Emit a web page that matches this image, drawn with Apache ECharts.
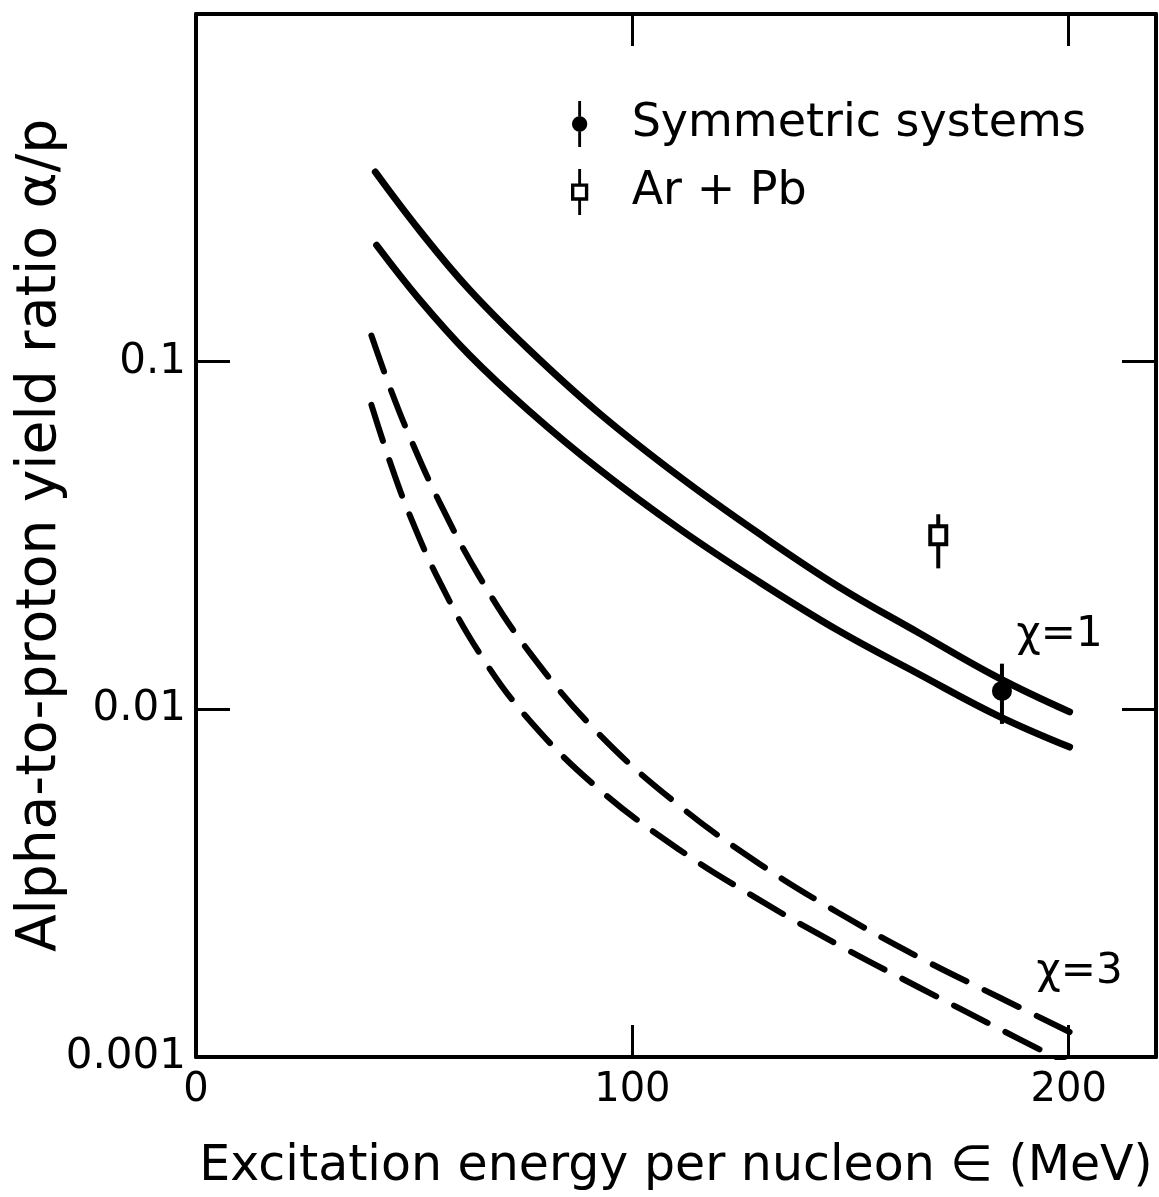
<!DOCTYPE html>
<html>
<head>
<meta charset="utf-8">
<script src="https://cdn.jsdelivr.net/npm/echarts@6/dist/echarts.min.js"></script>
<style>
html,body{margin:0;padding:0;background:#fff;}
#chart{width:1159px;height:1197px;}
</style>
</head>
<body>
<div id="chart"></div>
<script>
// Excitation energy per nucleon (MeV) and alpha/p ratio
const solidUpperX = [41.1, 51.2, 62.6, 76.3, 92.3, 110.6, 128.9, 147.2, 165.5, 183.8, 200.2];
const solidUpperY = [0.3511, 0.2388, 0.1614, 0.1083, 0.07126, 0.04688, 0.0321, 0.02257, 0.01663, 0.01233, 0.00983];
const solidLowerX = [41.4, 51.2, 62.6, 76.3, 92.3, 110.6, 128.9, 147.2, 165.5, 183.8, 200.2];
const solidLowerY = [0.2162, 0.151, 0.1047, 0.07222, 0.04912, 0.03318, 0.02333, 0.01685, 0.01266, 0.00958, 0.00779];
const dashUpperX = [40.2, 44.3, 48.9, 55.8, 64.9, 76.3, 92.3, 110.6, 128.9, 147.2, 165.5, 183.8, 200.2];
const dashUpperY = [0.1189, 0.08525, 0.06113, 0.03945, 0.02412, 0.01466, 0.0085, 0.0053, 0.00361, 0.0026, 0.00194, 0.00149, 0.00118];
const dashLowerX = [40.2, 44.3, 48.9, 55.8, 64.9, 76.3, 92.3, 110.6, 128.9, 147.2, 165.5, 183.8, 200.2];
const dashLowerY = [0.07514, 0.05215, 0.0364, 0.02333, 0.01456, 0.00933, 0.0059, 0.00396, 0.00284, 0.0021, 0.00159, 0.00121, 0.000951];

// data points: [energy, value, low, high]
const symmetricPts = [[184.7, 0.0113, 0.00908, 0.01353]];
const arPbPts = [[170.1, 0.0317, 0.02544, 0.0364]];

// curve labels: [energy, value, text]
const curveLabels = [[197.9, 0.0163, 'χ=1'], [202.5, 0.00176, 'χ=3']];

const xTicks = [0, 100, 200];
const xTickLabels = ['0', '100', '200'];
const yTicks = [0.001, 0.01, 0.1, 1];
const yTickLabels = ['0.001', '0.01', '0.1', ''];

const FONT = 'DejaVu Sans';
const zip = (xs, ys) => xs.map((x, i) => [x, ys[i]]);
const findLabel = (ticks, labels, v) => {
  for (let i = 0; i < ticks.length; i++) {
    if (Math.abs(v - ticks[i]) <= Math.abs(ticks[i]) * 1e-6 + 1e-9) return labels[i];
  }
  return '';
};

const chart = echarts.init(document.getElementById('chart'), null, {renderer: 'canvas'});

function errRender(kind) {
  return function (params, api) {
    const p = api.coord([api.value(0), api.value(1)]);
    const lo = api.coord([api.value(0), api.value(2)]);
    const hi = api.coord([api.value(0), api.value(3)]);
    const children = [{
      type: 'line',
      shape: {x1: p[0], y1: hi[1], x2: p[0], y2: lo[1]},
      style: {stroke: '#000', lineWidth: 4}
    }];
    if (kind === 'circle') {
      children.push({type: 'circle', shape: {cx: p[0], cy: p[1], r: 10}, style: {fill: '#000'}});
    } else {
      children.push({type: 'rect', shape: {x: p[0] - 8, y: p[1] - 9, width: 16, height: 18},
        style: {fill: '#fff', stroke: '#000', lineWidth: 4}});
    }
    return {type: 'group', children};
  };
}

function textRender(params, api) {
  const p = api.coord([api.value(0), api.value(1)]);
  return {
    type: 'text',
    x: p[0], y: p[1],
    style: {text: curveLabels[params.dataIndex][2], fill: '#000', font: '42px "' + FONT + '"',
      textAlign: 'center', textVerticalAlign: 'middle'}
  };
}

const axisLineStyle = {color: '#000', width: 4};
const tickStyle = {color: '#000', width: 3};

const option = {
  backgroundColor: '#fff',
  animation: false,
  grid: {left: 196, right: 3, top: 14, bottom: 140, outerBoundsMode: 'none', containLabel: false},
  legend: {
    orient: 'vertical',
    left: 566,
    top: 96,
    itemWidth: 18,
    itemHeight: 46,
    itemGap: 22,
    textStyle: {fontFamily: FONT, fontSize: 46, color: '#000', padding: [0, 0, 0, 38]},
    data: [
      {name: 'Symmetric systems', icon: 'path://M8,0h3v16h-3z M8,32h3v16h-3z M9.5,16a8,8 0 1,0 0.001,0z'},
      {name: 'Ar + Pb', icon: 'path://M8,0h3v15h-3z M8,33h3v15h-3z M0.5,15h18v18h-18z M4,18.5v11h11v-11z'}
    ],
    selectedMode: false
  },
  xAxis: [{
    type: 'value', min: 0, max: 220, interval: 100, position: 'bottom',
    name: 'Excitation energy per nucleon ∈ (MeV)',
    nameLocation: 'middle', nameGap: 86, nameMoveOverlap: false,
    nameTextStyle: {fontFamily: FONT, fontSize: 49, color: '#000'},
    axisLine: {show: true, onZero: false, lineStyle: axisLineStyle},
    axisTick: {show: true, inside: true, length: 32, lineStyle: tickStyle, customValues: xTicks},
    axisLabel: {fontFamily: FONT, fontSize: 40, color: '#000', margin: 14, customValues: xTicks,
      formatter: v => findLabel(xTicks, xTickLabels, v)},
    splitLine: {show: false}
  }, {
    type: 'value', min: 0, max: 220, interval: 100, position: 'top',
    axisLine: {show: true, onZero: false, lineStyle: axisLineStyle},
    axisTick: {show: true, inside: true, length: 32, lineStyle: tickStyle, customValues: xTicks},
    axisLabel: {show: false},
    splitLine: {show: false}
  }],
  yAxis: [{
    type: 'log', logBase: 10, min: 0.001, max: 1, position: 'left',
    name: 'Alpha-to-proton yield ratio α/p',
    nameLocation: 'middle', nameGap: 128, nameMoveOverlap: false,
    nameTextStyle: {fontFamily: FONT, fontSize: 55, color: '#000'},
    axisLine: {show: true, onZero: false, lineStyle: axisLineStyle},
    axisTick: {show: true, inside: true, length: 34, lineStyle: tickStyle, customValues: yTicks},
    axisLabel: {fontFamily: FONT, fontSize: 42, color: '#000', margin: 10, customValues: yTicks,
      formatter: v => findLabel(yTicks, yTickLabels, v)},
    splitLine: {show: false}
  }, {
    type: 'log', logBase: 10, min: 0.001, max: 1, position: 'right',
    axisLine: {show: true, onZero: false, lineStyle: axisLineStyle},
    axisTick: {show: true, inside: true, length: 34, lineStyle: tickStyle, customValues: yTicks},
    axisLabel: {show: false},
    splitLine: {show: false}
  }],
  series: [
    {type: 'line', name: 'χ=1 upper', data: zip(solidUpperX, solidUpperY), smooth: 0.4, symbol: 'none',
      lineStyle: {color: '#000', width: 7, cap: 'round'}},
    {type: 'line', name: 'χ=1 lower', data: zip(solidLowerX, solidLowerY), smooth: 0.4, symbol: 'none',
      lineStyle: {color: '#000', width: 7, cap: 'round'}},
    {type: 'line', name: 'χ=3 upper', data: zip(dashUpperX, dashUpperY), smooth: 0.4, symbol: 'none',
      lineStyle: {color: '#000', width: 6, type: [38, 20], cap: 'round'}},
    {type: 'line', name: 'χ=3 lower', data: zip(dashLowerX, dashLowerY), smooth: 0.4, symbol: 'none',
      lineStyle: {color: '#000', width: 6, type: [38, 20], cap: 'round'}},
    {type: 'custom', name: 'Symmetric systems', data: symmetricPts, renderItem: errRender('circle'),
      itemStyle: {color: '#000'}, z: 5},
    {type: 'custom', name: 'Ar + Pb', data: arPbPts, renderItem: errRender('square'),
      itemStyle: {color: '#000'}, z: 5},
    {type: 'custom', name: 'curve labels', data: curveLabels.map(d => [d[0], d[1]]), renderItem: textRender,
      silent: true, clip: false, z: 6}
  ]
};

chart.setOption(option);
</script>
</body>
</html>
